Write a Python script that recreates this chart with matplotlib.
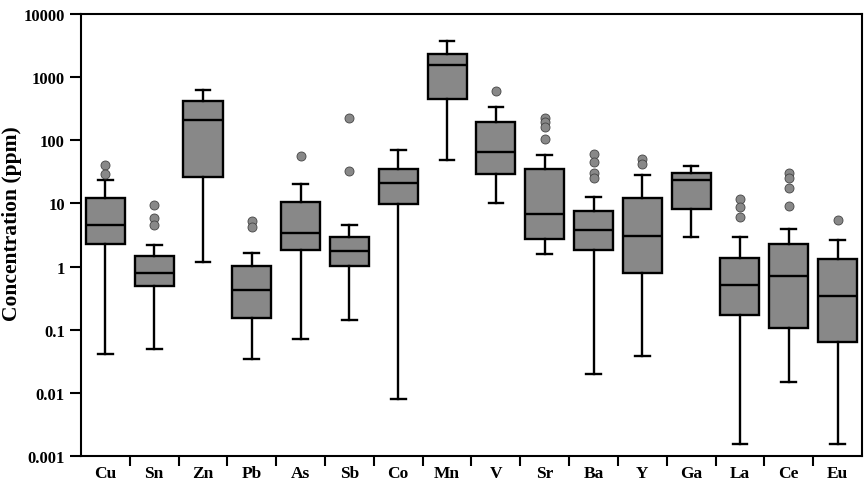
import matplotlib.pyplot as plt
from matplotlib.ticker import FixedLocator, NullLocator, FuncFormatter

elements = ["Cu", "Sn", "Zn", "Pb", "As", "Sb", "Co", "Mn",
            "V", "Sr", "Ba", "Y", "Ga", "La", "Ce", "Eu"]

# box statistics (ppm)
whislo = [0.041, 0.05, 1.18, 0.035, 0.070, 0.144, 0.0081, 48.6,
          10.3, 1.58, 0.020, 0.039, 2.9, 0.00153, 0.0147, 0.00157]
q1 = [2.3, 0.50, 25.9, 0.153, 1.81, 1.02, 9.9, 445,
      28.8, 2.73, 1.81, 0.80, 8.3, 0.173, 0.108, 0.064]
med = [4.5, 0.78, 212, 0.42, 3.4, 1.74, 21, 1575,
       66, 6.8, 3.74, 3.0, 23.2, 0.52, 0.71, 0.337]
q3 = [12.3, 1.49, 419, 1.03, 10.6, 2.97, 34.7, 2320,
      195, 35, 7.6, 12.3, 30.3, 1.35, 2.25, 1.33]
whishi = [23.8, 2.17, 625, 1.66, 20.3, 4.6, 69, 3780,
          336, 58.5, 12.5, 28.2, 39, 2.94, 3.98, 2.67]
outliers = [
    [40, 29],
    [9.4, 5.9, 4.6],
    [],
    [5.2, 4.3],
    [56],
    [228, 32.6],
    [],
    [],
    [611],
    [228, 195, 164, 105],
    [60.5, 45, 30.7, 25.6],
    [51, 42.6],
    [],
    [11.9, 8.7, 6.2],
    [30.7, 25.6, 17.3, 9.0],
    [5.5],
]

stats = []
for i in range(len(elements)):
    stats.append({"label": elements[i], "whislo": whislo[i], "q1": q1[i],
                  "med": med[i], "q3": q3[i], "whishi": whishi[i],
                  "fliers": outliers[i]})

plt.rcParams['font.family'] = ['Liberation Serif', 'DejaVu Serif']
plt.rcParams['font.weight'] = 'bold'

fig = plt.figure(figsize=(8.65, 4.81), dpi=100)
ax = fig.add_axes([0.0936, 0.0499, 0.9029, 0.9189])

lw = 1.7
ax.bxp(stats, positions=range(1, 17), widths=0.8, capwidths=0.3,
       patch_artist=True, showfliers=True,
       boxprops=dict(facecolor="#888888", edgecolor="black", linewidth=lw),
       medianprops=dict(color="black", linewidth=lw),
       whiskerprops=dict(color="black", linewidth=lw),
       capprops=dict(color="black", linewidth=lw),
       flierprops=dict(marker="o", markersize=6.5, markerfacecolor="#888888",
                       markeredgecolor="#444444", markeredgewidth=0.6))

ax.set_yscale("log")
ax.set_ylim(0.001, 10000)
ax.set_xlim(0.5, 16.5)

ax.yaxis.set_major_locator(FixedLocator([0.001, 0.01, 0.1, 1, 10, 100, 1000, 10000]))
ax.yaxis.set_minor_locator(NullLocator())
ax.yaxis.set_major_formatter(FuncFormatter(lambda v, p: f"{v:g}"))

ax.set_xticks(range(1, 17))
ax.set_xticklabels(elements)
ax.set_xticks([i + 0.5 for i in range(1, 16)], minor=True)
ax.tick_params(axis="x", which="major", length=0, labelsize=12.5, pad=6.5)
ax.tick_params(axis="x", which="minor", length=7, width=1.5, direction="out")
ax.tick_params(axis="y", which="major", length=8, width=1.5, labelsize=12)

for s in ax.spines.values():
    s.set_linewidth(1.5)

ylab = ax.set_ylabel("Concentration (ppm)", fontsize=15.5, fontweight="bold")
ylab.set_va("center")
ax.yaxis.set_label_coords(-0.088, 0.527)

fig.savefig("out.png", dpi=100)
